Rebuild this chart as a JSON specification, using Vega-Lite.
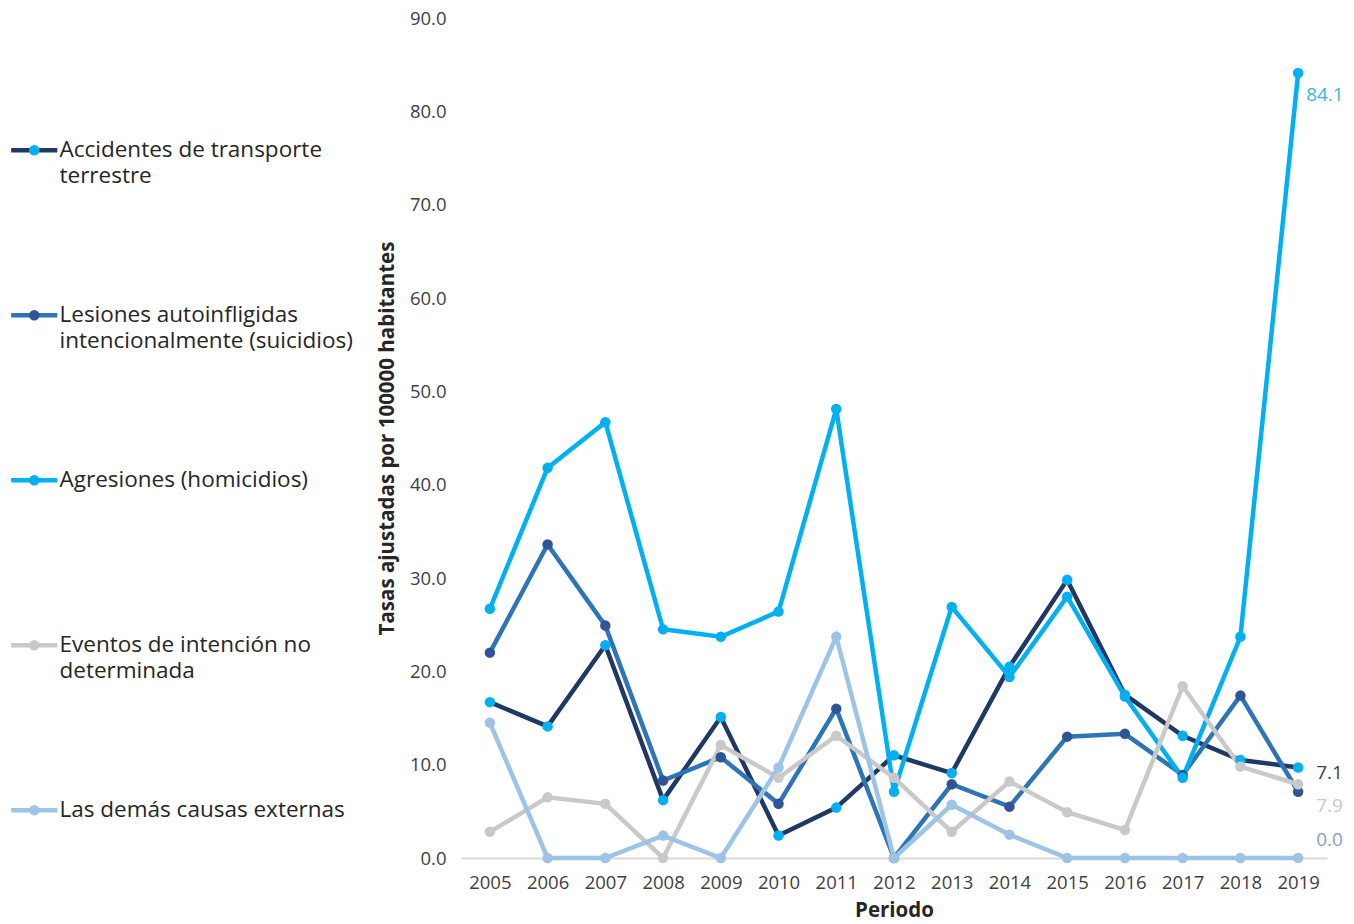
{
  "$schema": "https://vega.github.io/schema/vega-lite/v6.json",
  "width": 866,
  "height": 840,
  "autosize": {"type": "none"},
  "padding": {"left": 461, "top": 18, "right": 27, "bottom": 66},
  "background": "white",
  "config": {"view": {"stroke": null}, "font": "Open Sans", "style": {"guide-label": {"lineHeight": 26}}},
  "datasets": {
    "d": [
      {"year": "2005", "series": "Accidentes de transporte terrestre", "value": 16.7},
      {"year": "2006", "series": "Accidentes de transporte terrestre", "value": 14.1},
      {"year": "2007", "series": "Accidentes de transporte terrestre", "value": 22.8},
      {"year": "2008", "series": "Accidentes de transporte terrestre", "value": 6.2},
      {"year": "2009", "series": "Accidentes de transporte terrestre", "value": 15.1},
      {"year": "2010", "series": "Accidentes de transporte terrestre", "value": 2.4},
      {"year": "2011", "series": "Accidentes de transporte terrestre", "value": 5.4},
      {"year": "2012", "series": "Accidentes de transporte terrestre", "value": 11.0},
      {"year": "2013", "series": "Accidentes de transporte terrestre", "value": 9.1},
      {"year": "2014", "series": "Accidentes de transporte terrestre", "value": 20.5},
      {"year": "2015", "series": "Accidentes de transporte terrestre", "value": 29.8},
      {"year": "2016", "series": "Accidentes de transporte terrestre", "value": 17.5},
      {"year": "2017", "series": "Accidentes de transporte terrestre", "value": 13.1},
      {"year": "2018", "series": "Accidentes de transporte terrestre", "value": 10.5},
      {"year": "2019", "series": "Accidentes de transporte terrestre", "value": 9.7},
      {"year": "2005", "series": "Lesiones autoinfligidas intencionalmente (suicidios)", "value": 22.0},
      {"year": "2006", "series": "Lesiones autoinfligidas intencionalmente (suicidios)", "value": 33.6},
      {"year": "2007", "series": "Lesiones autoinfligidas intencionalmente (suicidios)", "value": 24.9},
      {"year": "2008", "series": "Lesiones autoinfligidas intencionalmente (suicidios)", "value": 8.3},
      {"year": "2009", "series": "Lesiones autoinfligidas intencionalmente (suicidios)", "value": 10.8},
      {"year": "2010", "series": "Lesiones autoinfligidas intencionalmente (suicidios)", "value": 5.8},
      {"year": "2011", "series": "Lesiones autoinfligidas intencionalmente (suicidios)", "value": 16.0},
      {"year": "2012", "series": "Lesiones autoinfligidas intencionalmente (suicidios)", "value": 0.0},
      {"year": "2013", "series": "Lesiones autoinfligidas intencionalmente (suicidios)", "value": 7.9},
      {"year": "2014", "series": "Lesiones autoinfligidas intencionalmente (suicidios)", "value": 5.5},
      {"year": "2015", "series": "Lesiones autoinfligidas intencionalmente (suicidios)", "value": 13.0},
      {"year": "2016", "series": "Lesiones autoinfligidas intencionalmente (suicidios)", "value": 13.3},
      {"year": "2017", "series": "Lesiones autoinfligidas intencionalmente (suicidios)", "value": 8.9},
      {"year": "2018", "series": "Lesiones autoinfligidas intencionalmente (suicidios)", "value": 17.4},
      {"year": "2019", "series": "Lesiones autoinfligidas intencionalmente (suicidios)", "value": 7.1},
      {"year": "2005", "series": "Agresiones (homicidios)", "value": 26.7},
      {"year": "2006", "series": "Agresiones (homicidios)", "value": 41.8},
      {"year": "2007", "series": "Agresiones (homicidios)", "value": 46.7},
      {"year": "2008", "series": "Agresiones (homicidios)", "value": 24.5},
      {"year": "2009", "series": "Agresiones (homicidios)", "value": 23.7},
      {"year": "2010", "series": "Agresiones (homicidios)", "value": 26.4},
      {"year": "2011", "series": "Agresiones (homicidios)", "value": 48.1},
      {"year": "2012", "series": "Agresiones (homicidios)", "value": 7.1},
      {"year": "2013", "series": "Agresiones (homicidios)", "value": 26.9},
      {"year": "2014", "series": "Agresiones (homicidios)", "value": 19.4},
      {"year": "2015", "series": "Agresiones (homicidios)", "value": 28.0},
      {"year": "2016", "series": "Agresiones (homicidios)", "value": 17.3},
      {"year": "2017", "series": "Agresiones (homicidios)", "value": 8.6},
      {"year": "2018", "series": "Agresiones (homicidios)", "value": 23.7},
      {"year": "2019", "series": "Agresiones (homicidios)", "value": 84.1},
      {"year": "2005", "series": "Eventos de intención no determinada", "value": 2.8},
      {"year": "2006", "series": "Eventos de intención no determinada", "value": 6.5},
      {"year": "2007", "series": "Eventos de intención no determinada", "value": 5.8},
      {"year": "2008", "series": "Eventos de intención no determinada", "value": 0.0},
      {"year": "2009", "series": "Eventos de intención no determinada", "value": 12.1},
      {"year": "2010", "series": "Eventos de intención no determinada", "value": 8.6},
      {"year": "2011", "series": "Eventos de intención no determinada", "value": 13.1},
      {"year": "2012", "series": "Eventos de intención no determinada", "value": 8.6},
      {"year": "2013", "series": "Eventos de intención no determinada", "value": 2.8},
      {"year": "2014", "series": "Eventos de intención no determinada", "value": 8.2},
      {"year": "2015", "series": "Eventos de intención no determinada", "value": 4.9},
      {"year": "2016", "series": "Eventos de intención no determinada", "value": 3.0},
      {"year": "2017", "series": "Eventos de intención no determinada", "value": 18.4},
      {"year": "2018", "series": "Eventos de intención no determinada", "value": 9.8},
      {"year": "2019", "series": "Eventos de intención no determinada", "value": 7.9},
      {"year": "2005", "series": "Las demás causas externas", "value": 14.5},
      {"year": "2006", "series": "Las demás causas externas", "value": 0.0},
      {"year": "2007", "series": "Las demás causas externas", "value": 0.0},
      {"year": "2008", "series": "Las demás causas externas", "value": 2.4},
      {"year": "2009", "series": "Las demás causas externas", "value": 0.0},
      {"year": "2010", "series": "Las demás causas externas", "value": 9.7},
      {"year": "2011", "series": "Las demás causas externas", "value": 23.7},
      {"year": "2012", "series": "Las demás causas externas", "value": 0.0},
      {"year": "2013", "series": "Las demás causas externas", "value": 5.7},
      {"year": "2014", "series": "Las demás causas externas", "value": 2.5},
      {"year": "2015", "series": "Las demás causas externas", "value": 0.0},
      {"year": "2016", "series": "Las demás causas externas", "value": 0.0},
      {"year": "2017", "series": "Las demás causas externas", "value": 0.0},
      {"year": "2018", "series": "Las demás causas externas", "value": 0.0},
      {"year": "2019", "series": "Las demás causas externas", "value": 0.0}
    ]
  },
  "data": {"name": "d"},
  "encoding": {
    "x": {
      "field": "year", "type": "ordinal",
      "scale": {"type": "point", "padding": 0.5},
      "axis": {
        "title": "Periodo", "labelAngle": 0, "ticks": false,
        "domainColor": "#D9D9D9", "domainWidth": 2,
        "labelFontSize": 18.5, "labelColor": "#404040", "labelPadding": 15,
        "titleFontSize": 20.5, "titleFontWeight": "bold", "titleColor": "#262626", "titlePadding": 9
      }
    },
    "y": {
      "field": "value", "type": "quantitative",
      "scale": {"domain": [0, 90], "nice": false},
      "axis": {
        "title": "Tasas ajustadas por 100000 habitantes",
        "values": [0, 10, 20, 30, 40, 50, 60, 70, 80, 90],
        "format": ".1f", "grid": false, "domain": false, "ticks": false,
        "labelFontSize": 18.5, "labelColor": "#404040", "labelPadding": 15,
        "titleFontSize": 20.5, "titleFontWeight": "bold", "titleColor": "#262626", "titlePadding": 12
      }
    }
  },
  "layer": [
    {
      "mark": {"type": "line", "strokeWidth": 4.5},
      "encoding": {
        "color": {
          "field": "series", "type": "nominal",
          "scale": {
            "domain": ["Accidentes de transporte terrestre", "Lesiones autoinfligidas intencionalmente (suicidios)", "Agresiones (homicidios)", "Eventos de intención no determinada", "Las demás causas externas"],
            "range": ["#203864", "#2E75B6", "#00B0F0", "#C9C9C9", "#9DC3E6"]
          },
          "legend": {
            "title": null, "orient": "none", "legendX": -438, "legendY": 121,
            "symbolType": "M-4.4,0H4.4", "symbolSize": 110, "symbolStrokeWidth": 4.5,
            "labelFontSize": 22.5, "labelColor": "#262626", "labelOffset": 14, "labelLimit": 400,
            "labelBaseline": "middle", "rowPadding": 116, "padding": 0,
            "labelExpr": "datum.label == 'Accidentes de transporte terrestre' ? ['Accidentes de transporte', 'terrestre'] : datum.label == 'Lesiones autoinfligidas intencionalmente (suicidios)' ? ['Lesiones autoinfligidas', 'intencionalmente (suicidios)'] : datum.label == 'Eventos de intención no determinada' ? ['Eventos de intención no', 'determinada'] : [datum.label, ' ']"
          }
        }
      }
    },
    {
      "transform": [{"calculate": "datum.series + ' '", "as": "marker"}],
      "mark": {"type": "point", "filled": true, "size": 110, "opacity": 1},
      "encoding": {
        "fill": {
          "field": "marker", "type": "nominal",
          "scale": {
            "domain": ["Accidentes de transporte terrestre ", "Lesiones autoinfligidas intencionalmente (suicidios) ", "Agresiones (homicidios) ", "Eventos de intención no determinada ", "Las demás causas externas "],
            "range": ["#00B0F0", "#2F5597", "#00B0F0", "#C9C9C9", "#9DC3E6"]
          },
          "legend": {
            "title": null, "orient": "none", "legendX": -438, "legendY": 121,
            "symbolType": "circle", "symbolSize": 110, "symbolStrokeWidth": 0,
            "labelFontSize": 22.5, "labelColor": "transparent", "labelOffset": 14, "labelLimit": 400,
            "labelBaseline": "middle", "rowPadding": 116, "padding": 0,
            "labelExpr": "[' ', ' ']"
          }
        }
      }
    },
    {
      "transform": [{"filter": "datum.year == '2019' && datum.series == 'Agresiones (homicidios)'"}],
      "mark": {"type": "text", "align": "left", "dx": 8, "dy": 22, "fontSize": 19, "color": "#3BB6E8"},
      "encoding": {"text": {"field": "value", "type": "quantitative", "format": ".1f"}}
    },
    {
      "transform": [{"filter": "datum.year == '2019' && datum.series == 'Lesiones autoinfligidas intencionalmente (suicidios)'"}],
      "mark": {"type": "text", "align": "left", "dx": 18, "dy": -19, "fontSize": 19, "color": "#404040"},
      "encoding": {"text": {"field": "value", "type": "quantitative", "format": ".1f"}}
    },
    {
      "transform": [{"filter": "datum.year == '2019' && datum.series == 'Eventos de intención no determinada'"}],
      "mark": {"type": "text", "align": "left", "dx": 18, "dy": 22, "fontSize": 19, "color": "#C9C9C9"},
      "encoding": {"text": {"field": "value", "type": "quantitative", "format": ".1f"}}
    },
    {
      "transform": [{"filter": "datum.year == '2019' && datum.series == 'Las demás causas externas'"}],
      "mark": {"type": "text", "align": "left", "dx": 18, "dy": -18, "fontSize": 19, "color": "#7F9FC6"},
      "encoding": {"text": {"field": "value", "type": "quantitative", "format": ".1f"}}
    }
  ]
}
